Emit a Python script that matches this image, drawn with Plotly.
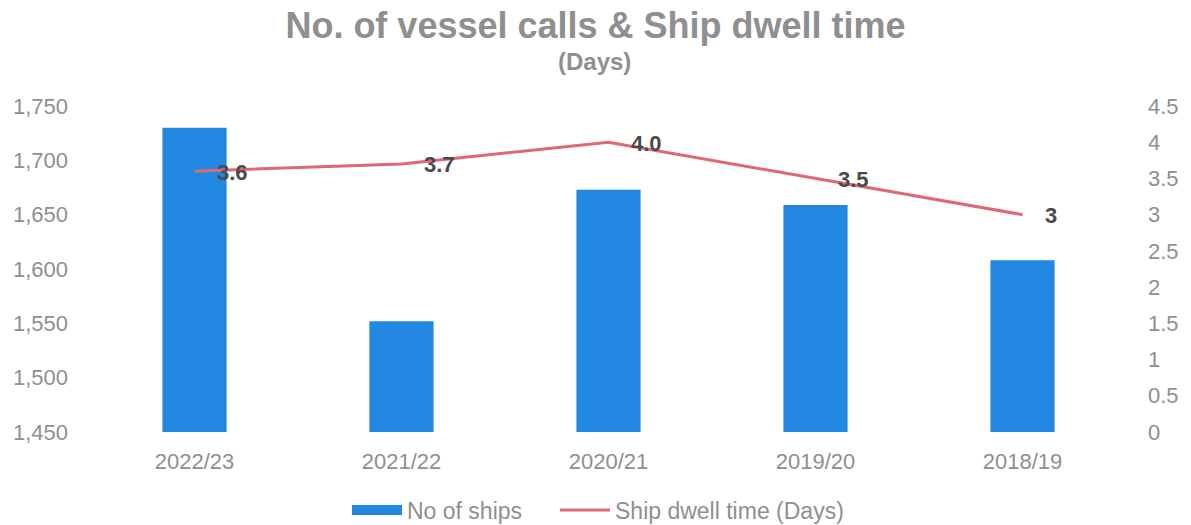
import plotly.graph_objects as go

# Chart data
years = ["2022/23", "2021/22", "2020/21", "2019/20", "2018/19"]
ships = [1730, 1552, 1673, 1659, 1608]
dwell_days = [3.6, 3.7, 4.0, 3.5, 3.0]
dwell_labels = ["3.6", "3.7", "4.0", "3.5", "3"]

BLUE = "#2187E0"
RED = "#E06874"
GREY = "#8F8F8F"
FONT = "Liberation Sans, Arial, sans-serif"

fig = go.Figure()

# vessel calls (left axis)
fig.add_trace(go.Bar(
    x=years, y=ships, marker=dict(color=BLUE, line=dict(width=0)),
    name="No of ships", showlegend=False, yaxis="y",
))
# legend stand-in: wide blue swatch
fig.add_trace(go.Scatter(
    x=[None], y=[None], mode="lines", name="No of ships",
    line=dict(color=BLUE, width=10), yaxis="y", legend="legend",
))
# dwell time (right axis)
fig.add_trace(go.Scatter(
    x=years, y=dwell_days, mode="lines", name="Ship dwell time (Days)",
    line=dict(color=RED, width=3), yaxis="y2", legend="legend2",
))

# value labels beside the line points
for x, v, t in zip(years, dwell_days, dwell_labels):
    fig.add_annotation(
        x=x, y=v, xref="x", yref="y2", text=f"<b>{t}</b>", showarrow=False,
        xanchor="left", yanchor="middle", xshift=20, yshift=-1,
        font=dict(family=FONT, size=22, color="#4A4A4A"),
    )

# subtitle, positioned in pixels relative to the plot area
plot_top, plot_h = 106, 326
fig.add_annotation(
    x=0.5, y=(plot_top + plot_h - 62) / plot_h, xref="paper", yref="paper",
    xanchor="center", yanchor="middle", xshift=-14, text="<b>(Days)</b>",
    showarrow=False, font=dict(family=FONT, size=24, color=GREY),
)

legend_style = dict(
    orientation="h", xanchor="left", xref="container",
    y=(525 - 510) / 525, yref="container", yanchor="middle",
    font=dict(family=FONT, size=23, color=GREY), itemwidth=50,
)

fig.update_layout(
    width=1191, height=525,
    margin=dict(l=91, r=63, t=106, b=93),
    paper_bgcolor="white", plot_bgcolor="white",
    title=dict(
        text="<b>No. of vessel calls & Ship dwell time</b>",
        x=0.5, xref="container", xanchor="center",
        y=0.952, yref="container", yanchor="middle",
        font=dict(family=FONT, size=36, color=GREY),
    ),
    bargap=0.69,
    xaxis=dict(
        showgrid=False, zeroline=False, showline=False,
        tickfont=dict(family=FONT, size=22, color=GREY),
        ticklabelstandoff=14,
    ),
    yaxis=dict(
        range=[1450, 1750], dtick=50, tickformat=",",
        showgrid=False, zeroline=False, showline=False,
        tickfont=dict(family=FONT, size=22, color=GREY),
        ticklabelstandoff=22,
    ),
    yaxis2=dict(
        range=[0, 4.5], dtick=0.5, overlaying="y", side="right",
        showgrid=False, zeroline=False, showline=False,
        tickfont=dict(family=FONT, size=22, color=GREY),
        ticklabelstandoff=21,
    ),
    legend=dict(x=347 / 1191, **legend_style),
    legend2=dict(x=555 / 1191, **legend_style),
)

fig.write_html("out.html")
